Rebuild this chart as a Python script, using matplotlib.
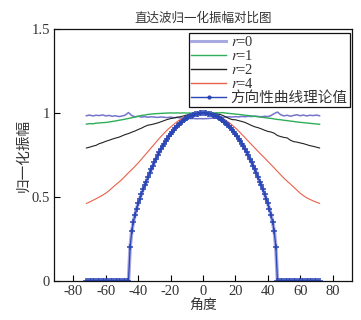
import matplotlib
matplotlib.use("Agg")
import matplotlib.pyplot as plt
from matplotlib.lines import Line2D

plt.rcParams['font.family'] = ['Liberation Serif', 'Noto Sans CJK SC', 'DejaVu Sans']
plt.rcParams['mathtext.fontset'] = 'stix'

title = "直达波归一化振幅对比图"
xlabel = "角度"
ylabel = "归一化振幅"
legend_labels = ["r=0", "r=1", "r=2", "r=4", "方向性曲线理论值"]

# measured curves, 2 degree step
angles_meas = list(range(-72, 73, 2))

flat_top = [0.984, 0.988, 0.983, 0.987, 0.985, 0.989, 0.983, 0.986, 0.981, 0.984, 0.979, 0.982, 0.988,
            1.003, 0.985, 0.978, 0.981, 0.976, 0.979, 0.975, 0.978, 0.976, 0.974, 0.977, 0.975, 0.973,
            0.976, 0.972, 0.974, 0.971, 0.969, 0.970, 0.967, 0.968, 0.966, 0.967, 0.966,
            0.967, 0.968, 0.970, 0.971, 0.973, 0.975, 0.976, 0.978, 0.976, 0.979, 0.977, 0.980, 0.978,
            0.981, 0.979, 0.982, 0.980, 0.978, 0.981, 0.979, 0.985, 0.997, 1.006, 0.990, 0.983, 0.987,
            0.981, 0.986, 0.990, 0.984, 0.988, 0.983, 0.987, 0.985, 0.988, 0.984]

r1 = [0.934, 0.937, 0.936, 0.940, 0.941, 0.943, 0.944, 0.947, 0.950, 0.953, 0.957, 0.960, 0.964,
      0.968, 0.972, 0.976, 0.981, 0.986, 0.988, 0.992, 0.994, 0.996, 0.997, 0.998, 0.999, 1.000,
      1.001, 1.000, 1.001, 1.000, 1.001, 1.000, 1.000, 1.001, 1.000, 1.000, 1.000,
      1.000, 1.001, 1.000, 1.002, 1.001, 1.003, 1.000, 0.998, 0.996, 0.994, 0.992, 0.990, 0.987,
      0.985, 0.983, 0.980, 0.978, 0.975, 0.973, 0.970, 0.968, 0.965, 0.962, 0.960, 0.957, 0.955,
      0.952, 0.950, 0.947, 0.945, 0.943, 0.941, 0.939, 0.937, 0.935, 0.933]

r2 = [0.792, 0.797, 0.803, 0.808, 0.818, 0.824, 0.832, 0.838, 0.845, 0.851, 0.856, 0.864, 0.872,
      0.878, 0.886, 0.893, 0.902, 0.910, 0.920, 0.928, 0.931, 0.936, 0.941, 0.948, 0.955, 0.962,
      0.967, 0.971, 0.975, 0.978, 0.983, 0.988, 0.991, 0.995, 0.997, 0.999, 1.000,
      0.999, 0.998, 0.996, 0.995, 0.993, 0.987, 0.978, 0.968, 0.961, 0.960, 0.955, 0.950, 0.944,
      0.935, 0.926, 0.918, 0.913, 0.906, 0.898, 0.891, 0.887, 0.880, 0.866, 0.860, 0.855, 0.852,
      0.838, 0.830, 0.827, 0.822, 0.818, 0.812, 0.806, 0.802, 0.797, 0.792]

r4 = [0.462, 0.470, 0.480, 0.490, 0.500, 0.511, 0.523, 0.538, 0.555, 0.572, 0.588, 0.605, 0.625,
      0.645, 0.663, 0.683, 0.703, 0.725, 0.748, 0.770, 0.793, 0.815, 0.838, 0.860, 0.880, 0.900,
      0.917, 0.933, 0.948, 0.962, 0.973, 0.982, 0.989, 0.994, 0.997, 0.999, 1.000,
      0.999, 0.997, 0.993, 0.988, 0.980, 0.970, 0.958, 0.944, 0.929, 0.912, 0.893, 0.873, 0.853,
      0.832, 0.812, 0.792, 0.772, 0.752, 0.733, 0.713, 0.693, 0.673, 0.652, 0.632, 0.612, 0.594,
      0.577, 0.559, 0.541, 0.523, 0.508, 0.496, 0.486, 0.477, 0.469, 0.462]

# theoretical directivity curve, 1 degree step
angles_theory = list(range(-72, 73, 1))
theory = ([0.0] * 27 +
          [0.200, 0.295, 0.350, 0.393, 0.430, 0.462, 0.490, 0.518, 0.545, 0.570,
           0.591, 0.617, 0.641, 0.664, 0.686, 0.707, 0.728, 0.748, 0.767, 0.785,
           0.802, 0.818, 0.834, 0.848, 0.862, 0.875, 0.888, 0.900, 0.911, 0.921,
           0.931, 0.940, 0.948, 0.956, 0.963, 0.969, 0.975, 0.980, 0.985, 0.989,
           0.992, 0.995, 0.997, 0.999, 1.000,
           1.000,
           1.000, 0.999, 0.997, 0.995, 0.992, 0.989, 0.985, 0.980, 0.975, 0.969,
           0.963, 0.956, 0.948, 0.940, 0.931, 0.921, 0.911, 0.900, 0.888, 0.875,
           0.862, 0.848, 0.834, 0.818, 0.802, 0.785, 0.767, 0.748, 0.728, 0.707,
           0.686, 0.664, 0.641, 0.617, 0.591, 0.570, 0.545, 0.518, 0.490, 0.462,
           0.430, 0.393, 0.350, 0.295, 0.200] +
          [0.0] * 27)

xticks = [-80, -60, -40, -20, 0, 20, 40, 60, 80]
yticks = [0, 0.5, 1, 1.5]
ytick_labels = ["0", "0.5", "1", "1.5"]

c_flat = '#7474cc'
c_r0 = '#a9a9e2'
c_r1 = '#2fae5a'
c_r2 = '#222222'
c_r4 = '#e8604a'
c_th = '#2a46b4'
text_c = '#333333'

fig = plt.figure(figsize=(3.61, 3.2), dpi=100)
ax = fig.add_axes([0.1496, 0.122, 0.8254, 0.787])

ax.plot(angles_meas, flat_top, color=c_flat, lw=1.1)
ax.plot(angles_meas, r1, color=c_r1, lw=1.0)
ax.plot(angles_meas, r2, color=c_r2, lw=0.8)
ax.plot(angles_meas, r4, color=c_r4, lw=0.8)
ax.plot(angles_theory, theory, color=c_r0, lw=2.6, solid_capstyle='butt')
ax.plot(angles_theory, theory, color=c_th, lw=0.9, marker='+', ms=4, mew=1.1)

ax.set_xlim(-92, 92)
ax.set_ylim(0, 1.5)
ax.set_xticks(xticks)
ax.set_xticklabels([str(t) for t in xticks])
ax.set_yticks(yticks)
ax.set_yticklabels(ytick_labels)
ax.tick_params(direction='in', length=4, width=0.8, labelsize=10.5, labelcolor=text_c,
               top=False, right=False, pad=3)
for s in ax.spines.values():
    s.set_linewidth(0.9)
    s.set_color('#111111')

ax.set_title(title, fontsize=9, color=text_c, pad=5)
ax.set_xlabel(xlabel, fontsize=10, color=text_c, labelpad=1.5)
ax.set_ylabel(ylabel, fontsize=10.5, color=text_c, labelpad=1)

handles = [Line2D([], [], color=c_r0, lw=2.2),
           Line2D([], [], color=c_r1, lw=1.0),
           Line2D([], [], color=c_r2, lw=1.0),
           Line2D([], [], color=c_r4, lw=1.0),
           Line2D([], [], color=c_th, lw=1.0, marker='.', ms=4)]
labels = ["$r$=" + lab[2:] if lab.startswith("r=") else lab for lab in legend_labels]
leg = ax.legend(handles, labels, loc='upper right', bbox_to_anchor=(0.993, 0.984),
                borderaxespad=0, fontsize=10.5, labelspacing=0.0, handlelength=2.4,
                handletextpad=0.3, borderpad=0.15, fancybox=False, framealpha=1,
                edgecolor='#111111')
leg.get_frame().set_linewidth(0.9)
for t in leg.get_texts():
    t.set_color(text_c)

fig.savefig("out.png", dpi=100)
